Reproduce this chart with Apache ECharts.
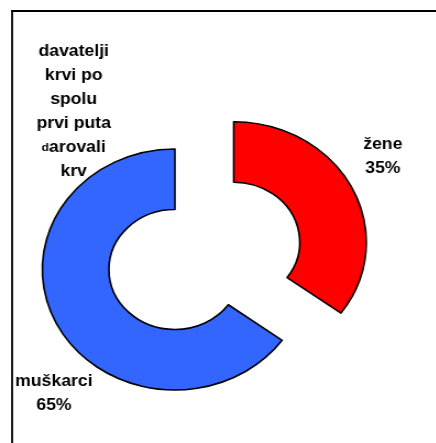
<!DOCTYPE html>
<html>
<head>
<meta charset="utf-8">
<script src="https://cdn.jsdelivr.net/npm/echarts@6/dist/echarts.min.js"></script>
<style>
  html, body { margin: 0; padding: 0; background: #fff; overflow: hidden; }
  /* the original picture is stretched sideways a little, so the whole chart is too */
  #chart { width: 397px; height: 443px; transform: scaleX(1.1); transform-origin: 0 0; }
</style>
</head>
<body>
<div id="chart"></div>
<script>
// data
const categories = ["žene", "muškarci"];
const values = [35, 65];
const sliceColors = ["#ff0000", "#3366ff"];
const titleText = "davatelji\nkrvi po\nspolu\nprvi puta\n{s|d}arovali\nkrv";

// label spots (chart units, before the stretch)
const labelSpots = [
  { x: 348, y: 157 },
  { x: 49, y: 394 }
];

const chart = echarts.init(document.getElementById("chart"));

const labelFont = {
  fontFamily: "Liberation Sans",
  fontSize: 16,
  fontWeight: "bold",
  fill: "#000",
  lineHeight: 24,
  align: "center",
  verticalAlign: "middle"
};

// slice labels, text taken from the data
const labels = categories.map(function (name, i) {
  return {
    type: "text",
    x: labelSpots[i].x,
    y: labelSpots[i].y,
    style: Object.assign({ text: name + "\n" + values[i] + "%" }, labelFont)
  };
});

chart.setOption({
  animation: false,
  textStyle: { fontFamily: "Liberation Sans" },
  title: {
    text: titleText,
    left: 67,
    top: 40,
    textAlign: "center",
    padding: 0,
    textStyle: {
      fontFamily: "Liberation Sans",
      fontSize: 16,
      fontWeight: "bold",
      color: "#000",
      lineHeight: 24,
      rich: {
        s: { fontFamily: "Liberation Sans", fontSize: 11, fontWeight: "bold", color: "#000", lineHeight: 24 }
      }
    }
  },
  graphic: [
    // frame: only top and left edges are in the picture
    { type: "line", shape: { x1: 10, y1: 11, x2: 397, y2: 11 }, style: { stroke: "#000", lineWidth: 2 } },
    { type: "line", shape: { x1: 11, y1: 10, x2: 11, y2: 443 }, style: { stroke: "#000", lineWidth: 1.8 } }
  ].concat(labels),
  series: [
    {
      type: "pie",
      center: [159, 269.5],
      radius: [60, 120.5],
      startAngle: 90,
      clockwise: true,
      selectedMode: "single",
      selectedOffset: 60,
      emphasis: { disabled: true },
      itemStyle: { borderColor: "#000", borderWidth: 1.6 },
      label: { show: false },
      labelLine: { show: false },
      data: categories.map(function (name, i) {
        return {
          name: name,
          value: values[i],
          selected: i === 0,
          itemStyle: { color: sliceColors[i] }
        };
      })
    }
  ]
});
</script>
</body>
</html>
